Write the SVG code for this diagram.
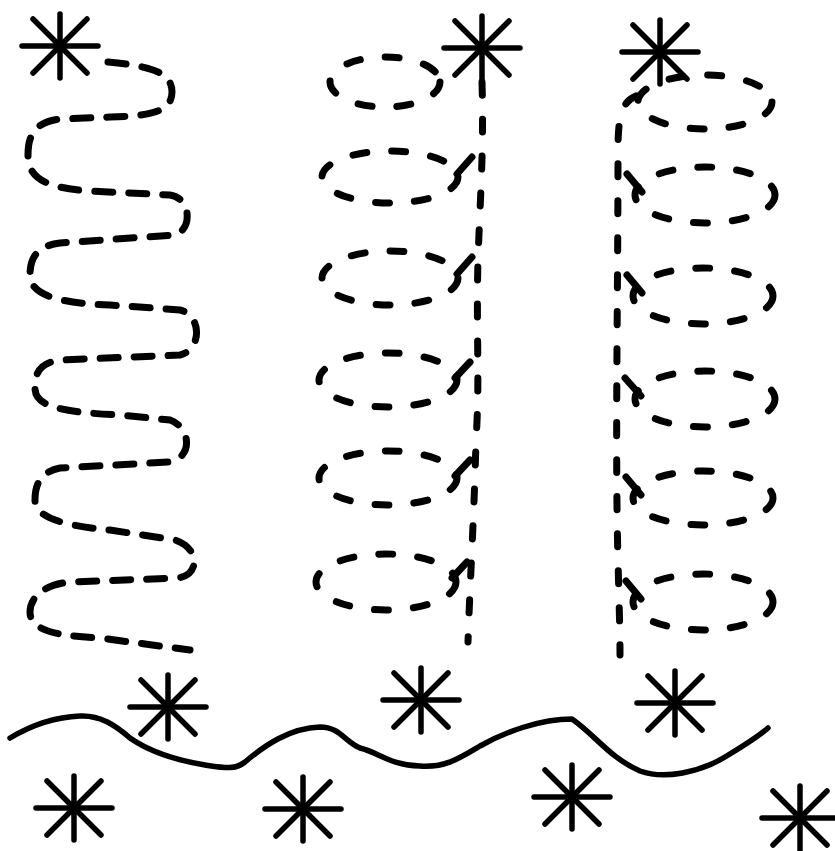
<svg xmlns="http://www.w3.org/2000/svg" width="835" height="851" viewBox="0 0 835 851">
<style>
.bg{fill:#fff}
.star line{stroke:#000;stroke-width:5.5;stroke-linecap:round}
.dash{fill:none;stroke:#000;stroke-width:7;stroke-linecap:round}
.sq{stroke-dasharray:18 16}
.lp{stroke-dasharray:14 25}
.vl{stroke-dasharray:13 24}
.tick{fill:none;stroke:#000;stroke-width:7;stroke-linecap:round}
.wave{fill:none;stroke:#000;stroke-width:5.5;stroke-linejoin:round;stroke-linecap:round}
</style>
<defs>
<g id="star" class="star">
<line x1="0" y1="-32" x2="0" y2="32"/>
<line x1="-38" y1="0" x2="38" y2="0"/>
<line x1="-27" y1="-27" x2="27" y2="27"/>
<line x1="27" y1="-27" x2="-27" y2="27"/>
</g>
</defs>
<rect class="bg" x="0" y="0" width="835" height="851"/>
<g id="stars">
<use href="#star" x="60" y="46"/>
<use href="#star" x="482" y="48"/>
<use href="#star" x="660" y="52"/>
<use href="#star" x="168" y="707"/>
<use href="#star" x="421" y="700"/>
<use href="#star" x="675" y="703"/>
<use href="#star" x="74" y="808"/>
<use href="#star" x="303" y="809"/>
<use href="#star" x="572" y="797"/>
<use href="#star" x="800" y="818"/>
</g>
<g id="left-squiggle">
<path class="dash sq" d="M108,62 C150,66 172,72 172,92 C172,112 150,116 110,117 L60,119 C35,122 28,135 28,155 C28,178 45,188 90,191 L170,195 C192,198 192,230 175,235 L60,243 C35,246 30,260 30,275 C30,292 50,303 110,305 L180,310 C202,315 202,350 180,355 L60,360 C40,363 35,372 35,388 C35,405 55,412 120,415 L170,420 C192,428 192,458 170,462 L60,468 C40,472 35,485 35,500 C35,515 55,525 110,530 L175,540 C200,548 200,575 178,578 L70,582 C40,585 30,600 30,612 C30,630 55,636 100,638 L190,650"/>
</g>
<g id="middle-coil">
<path class="dash vl" d="M482,82 C484,150 480,200 478,260 C476,330 480,380 476,440 C474,520 470,580 468,642"/>
<ellipse class="dash lp" cx="385" cy="82" rx="55" ry="25"/>
<ellipse class="dash lp" cx="390" cy="177" rx="68" ry="26"/>
<ellipse class="dash lp" cx="390" cy="278" rx="68" ry="27"/>
<ellipse class="dash lp" cx="388" cy="380" rx="69" ry="27"/>
<ellipse class="dash lp" cx="388" cy="478" rx="69" ry="27"/>
<ellipse class="dash lp" cx="386" cy="582" rx="70" ry="28"/>
<path class="tick" d="M472,157 L457,174 M472,257 L457,274 M470,362 L455,378 M470,460 L455,476 M467,562 L452,578"/>
</g>
<g id="right-coil">
<path class="dash vl" d="M636,96 C622,102 618,115 618,150 C618,300 615,450 618,560 C619,600 620,630 620,655"/>
<ellipse class="dash lp" cx="705" cy="102" rx="67" ry="27"/>
<ellipse class="dash lp" cx="705" cy="195" rx="70" ry="28"/>
<ellipse class="dash lp" cx="703" cy="296" rx="70" ry="28"/>
<ellipse class="dash lp" cx="705" cy="399" rx="70" ry="28"/>
<ellipse class="dash lp" cx="703" cy="498" rx="70" ry="27"/>
<ellipse class="dash lp" cx="703" cy="602" rx="70" ry="28"/>
<path class="tick" d="M627,174 L642,192 M627,275 L642,293 M625,378 L641,396 M626,477 L641,495 M626,581 L641,599"/>
</g>
<g id="ground">
<path class="wave" d="M10,738 C30,726 55,717 80,716 C100,715 115,725 130,738 C150,752 175,760 205,765 C225,768 235,770 245,762 C265,745 290,728 320,727 C340,727 345,742 360,748 C380,753 390,765 420,766 C445,768 460,758 480,746 C505,732 540,719 572,719 C595,735 610,758 640,771 C665,780 700,772 725,757 C745,745 760,735 768,728"/>
</g>
</svg>
